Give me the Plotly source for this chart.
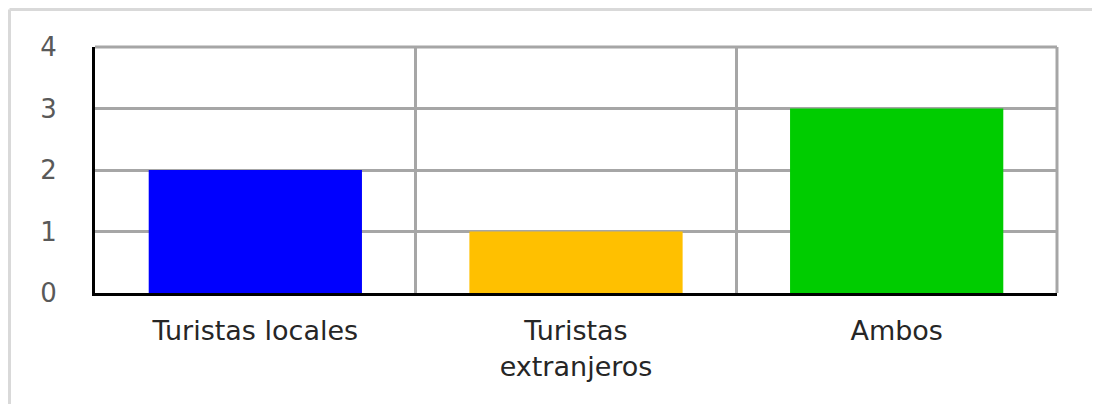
import plotly.graph_objects as go

categories = ["Turistas locales", "Turistas<br>extranjeros", "Ambos"]
values = [2, 1, 3]
bar_colors = ["#0000ff", "#ffc000", "#00cc00"]
y_ticks = [0, 1, 2, 3, 4]

# page body has an 8px margin, so the figure starts at (8, 8)
W, H = 1092, 396
ml, mr, mt, mb = 87, 43, 39, 111
pw, ph = W - ml - mr, H - mt - mb

fig = go.Figure()
fig.add_trace(go.Bar(
    x=categories,
    y=values,
    marker_color=bar_colors,
    marker_line_width=0,
    width=0.665,
))

fig.update_layout(
    width=W, height=H,
    margin=dict(l=ml, r=mr, t=mt, b=mb),
    plot_bgcolor="white",
    paper_bgcolor="white",
    showlegend=False,
    font=dict(family="DejaVu Sans", size=27, color="#262626"),
)
fig.update_xaxes(
    tickson="boundaries",
    range=[-0.5, 2.5],
    showgrid=True, gridcolor="#a6a6a6", gridwidth=3,
    showline=True, linecolor="black", linewidth=3,
    ticks="", ticklabelstandoff=12,
    tickfont=dict(size=27, color="#262626"),
)
fig.update_yaxes(
    range=[0, 4], tickvals=y_ticks,
    showgrid=True, gridcolor="#a6a6a6", gridwidth=3,
    showline=True, linecolor="black", linewidth=3,
    zeroline=False,
    ticks="", ticklabelstandoff=30,
    tickfont=dict(size=26, color="#595959"),
)

# gray top gridline and right border of the plot area
fig.add_shape(type="line", xref="paper", yref="paper",
              x0=0, x1=1, y0=1, y1=1,
              line=dict(color="#a6a6a6", width=3), layer="below")
fig.add_shape(type="line", xref="paper", yref="paper",
              x0=1, x1=1, y0=0, y1=1,
              line=dict(color="#a6a6a6", width=3), layer="below")

# light gray frame on the left and top of the chart area
x_left = (1.5 - ml) / pw
y_top = 1 + (mt - 1.5) / ph
fig.add_shape(type="line", xref="paper", yref="paper",
              x0=x_left, x1=x_left, y0=y_top, y1=-mb / ph - 0.1,
              line=dict(color="#d9d9d9", width=3))
fig.add_shape(type="line", xref="paper", yref="paper",
              x0=x_left, x1=1 + mr / pw + 0.1, y0=y_top, y1=y_top,
              line=dict(color="#d9d9d9", width=3))

fig.write_html("out.html")
